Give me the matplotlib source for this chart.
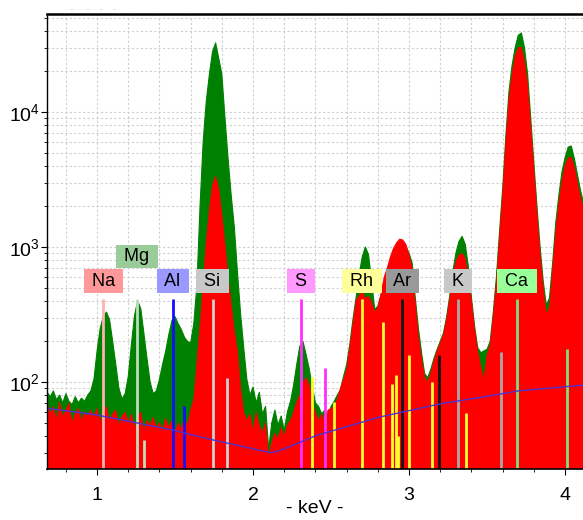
"""XRF spectrum (log counts vs. keV) with element line markers."""

import matplotlib.pyplot as plt
import numpy as np
from matplotlib.ticker import MultipleLocator, LogLocator, NullFormatter
from matplotlib.transforms import blended_transform_factory

plt.rcParams["font.family"] = ["Liberation Sans", "DejaVu Sans"]

# spectrum channels: 0.68 keV start, 0.02 keV per channel
E_START = 0.68
E_STEP = 0.02

# total spectrum (green), 10 channels per row
counts_total = [
    84, 78, 86, 74, 80, 70, 82, 72, 68, 78,
    70, 76, 72, 80, 86, 105, 170, 250, 305, 330,
    290, 200, 135, 90, 75, 82, 110, 190, 310, 400,
    350, 230, 150, 100, 82, 86, 105, 135, 170, 225,
    285, 305, 270, 245, 215, 200, 195, 270, 520, 2000,
    6000, 12000, 19000, 28000, 32500, 25000, 19000, 9000, 4500, 2400,
    1400, 650, 320, 180, 105, 80, 92, 70, 84, 58,
    66, 32, 50, 62, 48, 56, 44, 60, 72, 95,
    135, 185, 200, 160, 125, 92, 70, 66, 58, 62,
    55, 66, 72, 80, 88, 110, 135, 190, 290, 420,
    620, 850, 1000, 880, 560, 345, 365, 440, 560, 660,
    800, 950, 1050, 1100, 1080, 1000, 900, 760, 420, 250,
    165, 115, 108, 125, 150, 175, 200, 230, 300, 430,
    650, 900, 1100, 1200, 1050, 720, 420, 260, 180, 165,
    170, 175, 200, 330, 600, 1300, 2700, 6500, 14000, 22000,
    30000, 37000, 38500, 30000, 19000, 9000, 4200, 2000, 1000, 560,
    370, 420, 750, 1500, 2400, 3600, 4600, 5500, 5600, 4500,
    3400, 2600, 2100,
]

# second spectrum (red)
counts_sample = [
    70, 58, 66, 52, 72, 55, 62, 70, 50, 58,
    64, 52, 60, 56, 62, 55, 64, 50, 60, 66,
    52, 58, 62, 48, 56, 60, 50, 58, 46, 55,
    60, 44, 52, 48, 55, 46, 50, 44, 54, 46,
    52, 42, 50, 45, 55, 48, 62, 75, 140, 260,
    560, 1100, 1900, 2900, 3350, 2700, 1750, 1050, 600, 380,
    240, 170, 90, 60, 52, 58, 44, 60, 48, 42,
    50, 28, 36, 42, 38, 46, 40, 48, 52, 60,
    72, 80, 98, 108, 95, 70, 60, 52, 58, 50,
    62, 64, 66, 75, 90, 105, 125, 180, 270, 400,
    440, 460, 420, 430, 390, 330, 360, 450, 600, 700,
    850, 980, 1080, 1150, 1130, 1050, 880, 700, 380, 220,
    150, 108, 100, 118, 145, 170, 195, 225, 290, 410,
    600, 780, 870, 900, 820, 600, 400, 250, 170, 130,
    105, 160, 190, 310, 560, 1200, 2500, 6000, 12500, 19000,
    26000, 30000, 30000, 24000, 16000, 8000, 3800, 1800, 900, 500,
    320, 360, 680, 1300, 2100, 3100, 4000, 4600, 4600, 3900,
    3000, 2300, 1900,
]

# background curve
bg_energy = [0.68, 1.0, 1.49, 1.71, 2.11, 2.17, 2.4, 2.81, 3.2, 3.46, 3.7, 4.12]
bg_counts = [64, 57, 44, 38, 30, 31, 40, 55, 69, 77, 86, 95]

# element labels
elements = ["Na", "Mg", "Al", "Si", "S", "Rh", "Ar", "K", "Ca"]
element_energy = [1.041, 1.254, 1.487, 1.740, 2.307, 2.697, 2.957, 3.313, 3.691]
element_box = ["#ff9999", "#99cc99", "#9999ff", "#c8c8c8", "#ff99ff",
               "#ffff99", "#999999", "#c8c8c8", "#99ff99"]
element_row = [0, 1, 0, 0, 0, 0, 0, 0, 0]

# emission lines: energy, top (counts), element
line_energy = [1.041, 1.254, 1.302, 1.487, 1.557, 1.740, 1.836, 2.307, 2.464,
               2.377, 2.519, 2.697, 2.834, 2.890, 2.915, 2.928, 3.001, 3.144, 3.364,
               2.957, 3.190, 3.313, 3.590, 3.691, 4.012]
line_top = [412, 412, 37, 412, 67, 412, 107, 412, 127,
            109, 71, 412, 278, 97, 113, 40, 158, 100, 59,
            412, 158, 412, 167, 412, 176]
line_element = ["Na", "Mg", "Mg", "Al", "Al", "Si", "Si", "S", "S",
                "Rh", "Rh", "Rh", "Rh", "Rh", "Rh", "Rh", "Rh", "Rh", "Rh",
                "Ar", "Ar", "K", "K", "Ca", "Ca"]
line_color = {"Na": "#ffb0b0", "Mg": "#c0dcc0", "Al": "#1010ff", "Si": "#d0d0d0",
              "S": "#ff30ff", "Rh": "#ffff30", "Ar": "#151515", "K": "#a8a8a8",
              "Ca": "#7ee07e"}


def plot_spectrum(save_path="out.png"):
    energy = E_START + E_STEP * np.arange(len(counts_total))

    fig = plt.figure(figsize=(5.83, 5.2), dpi=100)
    ax = fig.add_axes([47 / 583, 51 / 520, 536 / 583, 455 / 520])
    ax.set_yscale("log")
    ax.set_xlim(0.679, 4.115)
    ax.set_ylim(22.7, 53200)

    ax.fill_between(energy, 1, counts_total, color="#008000", edgecolor="#008000",
                    linewidth=0.8, zorder=2)
    ax.fill_between(energy, 1, counts_sample, color="#ff0000", edgecolor="#ff0000",
                    linewidth=0.5, zorder=3)

    for e, top, el in zip(line_energy, line_top, line_element):
        ax.vlines(e, 1, top, color=line_color[el], linewidth=2, zorder=4)

    ax.plot(bg_energy, bg_counts, color="#4b32d2", linewidth=1, zorder=5)

    # element labels just above the line tops
    trans = blended_transform_factory(ax.transData, ax.transAxes)
    for name, e, fc, row in zip(elements, element_energy, element_box, element_row):
        y = 0.413 if row == 0 else 0.467
        ax.text(e, y, f" {name} ", transform=trans, ha="center", va="center",
                fontsize=13, color="black", zorder=6,
                bbox=dict(boxstyle="square,pad=0.18", fc=fc, ec="none"))

    # axes styling
    ax.xaxis.set_major_locator(MultipleLocator(1))
    ax.xaxis.set_minor_locator(MultipleLocator(0.2))
    ax.yaxis.set_major_locator(LogLocator(base=10))
    ax.yaxis.set_minor_locator(LogLocator(base=10, subs=np.arange(2, 10)))
    ax.yaxis.set_minor_formatter(NullFormatter())
    ax.tick_params(axis="x", which="major", length=4, labelsize=14, pad=9)
    ax.tick_params(axis="x", which="minor", length=2.5)
    ax.tick_params(axis="y", which="major", length=4, labelsize=14, pad=1)
    ax.tick_params(axis="y", which="minor", length=2.5)
    ax.grid(True, which="both", color="#cfcfcf", linestyle=(0, (2, 2)), linewidth=0.8, zorder=0)
    ax.set_axisbelow(True)

    ax.spines["right"].set_visible(False)
    ax.spines["top"].set_linewidth(1.8)
    ax.spines["bottom"].set_linewidth(1.2)
    ax.spines["left"].set_linewidth(1.0)
    for side in ("top", "bottom", "left"):
        ax.spines[side].set_zorder(7)

    ax.set_xlabel("- keV -", fontsize=14)
    ax.xaxis.set_label_coords(0.5, -0.068)
    fig.text(70 / 583, 1 - 9 / 520, "-    -   -   -", color="#d8d8d8", fontsize=8, va="center")

    plt.savefig(save_path, dpi=100)
    plt.close()


def main():
    plot_spectrum("out.png")


if __name__ == "__main__":
    main()
